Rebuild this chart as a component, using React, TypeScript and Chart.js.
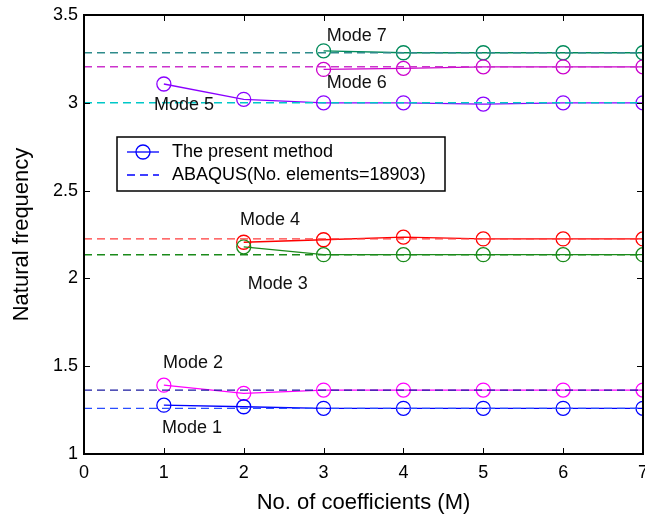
import React, { useEffect, useRef } from "react";
import { Chart, registerables } from "chart.js";

Chart.register(...registerables);

// ---- Data ----
const xTicks = [0, 1, 2, 3, 4, 5, 6, 7];
const yTicks = [1, 1.5, 2, 2.5, 3, 3.5];

const mFrom1 = [1, 2, 3, 4, 5, 6, 7];
const mFrom2 = [2, 3, 4, 5, 6, 7];
const mFrom3 = [3, 4, 5, 6, 7];

const mode1Present = [1.278, 1.269, 1.26, 1.26, 1.26, 1.26, 1.26];
const mode2Present = [1.392, 1.345, 1.364, 1.364, 1.364, 1.364, 1.364];
const mode3Present = [2.18, 2.135, 2.135, 2.135, 2.135, 2.135];
const mode4Present = [2.206, 2.22, 2.235, 2.225, 2.225, 2.225];
const mode5Present = [3.107, 3.02, 3.0, 3.0, 2.993, 3.0, 3.0];
const mode6Present = [3.19, 3.196, 3.205, 3.205, 3.205];
const mode7Present = [3.296, 3.285, 3.285, 3.285, 3.285];

const abaqusValues = [1.26, 1.364, 2.135, 2.225, 3.0, 3.205, 3.285];

const presentColors = ["#0000ff", "#ff00ff", "#1a8a1a", "#ff0000", "#8a00ff", "#cc00cc", "#008a5a"];
const abaqusColors = ["#2a4dff", "#1a1aa0", "#1a8a1a", "#ff3b3b", "#00c8c8", "#cc33cc", "#2e8b8b"];

const modeLabels = ["Mode 1", "Mode 2", "Mode 3", "Mode 4", "Mode 5", "Mode 6", "Mode 7"];
const modeLabelX = [0.977, 0.99, 2.05, 1.953, 0.877, 3.04, 3.04];
const modeLabelY = [1.15, 1.52, 1.97, 2.33, 2.99, 3.11, 3.38];

const legendLabels = ["The present method", "ABAQUS(No. elements=18903)"];

const xTitle = "No. of coefficients (M)";
const yTitle = "Natural frequency";

const FONT = "'Liberation Sans', Arial, Helvetica, sans-serif";

const presentSeries = [
  [mFrom1, mode1Present],
  [mFrom1, mode2Present],
  [mFrom2, mode3Present],
  [mFrom2, mode4Present],
  [mFrom1, mode5Present],
  [mFrom3, mode6Present],
  [mFrom3, mode7Present],
] as [number[], number[]][];

const decorPlugin = {
  id: "decor",
  afterDatasetsDraw(chart: any) {
    const { ctx, chartArea, scales } = chart;
    const xs = scales.x;
    const ys = scales.y;
    ctx.save();
    // mode labels
    ctx.fillStyle = "#111";
    ctx.font = `18px ${FONT}`;
    ctx.textAlign = "left";
    ctx.textBaseline = "middle";
    modeLabels.forEach((t, i) => {
      ctx.fillText(t, xs.getPixelForValue(modeLabelX[i]), ys.getPixelForValue(modeLabelY[i]));
    });

    // frame
    const { left, right, top, bottom } = chartArea;
    ctx.strokeStyle = "#000";
    ctx.lineWidth = 2;
    ctx.strokeRect(left, top, right - left, bottom - top);
    ctx.lineWidth = 1;
    const tl = 6;
    ctx.beginPath();
    xTicks.forEach((v) => {
      const px = Math.round(xs.getPixelForValue(v)) + 0.5;
      ctx.moveTo(px, bottom);
      ctx.lineTo(px, bottom - tl);
      ctx.moveTo(px, top);
      ctx.lineTo(px, top + tl);
    });
    yTicks.forEach((v) => {
      const py = Math.round(ys.getPixelForValue(v)) + 0.5;
      ctx.moveTo(left, py);
      ctx.lineTo(left + tl, py);
      ctx.moveTo(right, py);
      ctx.lineTo(right - tl, py);
    });
    ctx.stroke();

    // legend
    const lx = 117, ly = 137, lw = 328, lh = 54;
    ctx.fillStyle = "#fff";
    ctx.fillRect(lx, ly, lw, lh);
    ctx.lineWidth = 1.5;
    ctx.strokeStyle = "#000";
    ctx.strokeRect(lx, ly, lw, lh);
    const r1 = 152, r2 = 175;
    ctx.strokeStyle = "#0000ff";
    ctx.lineWidth = 1.3;
    ctx.beginPath();
    ctx.moveTo(127, r1);
    ctx.lineTo(159, r1);
    ctx.stroke();
    ctx.beginPath();
    ctx.arc(143, r1, 7, 0, Math.PI * 2);
    ctx.stroke();
    ctx.setLineDash([8, 5]);
    ctx.beginPath();
    ctx.moveTo(127, r2);
    ctx.lineTo(159, r2);
    ctx.stroke();
    ctx.setLineDash([]);
    ctx.fillStyle = "#000";
    ctx.font = `18px ${FONT}`;
    ctx.textAlign = "left";
    ctx.textBaseline = "middle";
    ctx.fillText(legendLabels[0], 172, r1);
    ctx.fillText(legendLabels[1], 172, r2);

    // axis titles
    ctx.font = `22px ${FONT}`;
    ctx.textAlign = "center";
    ctx.textBaseline = "middle";
    ctx.fillText(xTitle, (left + right) / 2, 503);
    ctx.save();
    ctx.translate(22, (top + bottom) / 2);
    ctx.rotate(-Math.PI / 2);
    ctx.fillText(yTitle, 0, 0);
    ctx.restore();
    ctx.restore();
  },
};

export default function App() {
  const ref = useRef<HTMLCanvasElement>(null);
  useEffect(() => {
    if (!ref.current) return;
    const datasets: any[] = [];
    abaqusValues.forEach((v, i) => {
      datasets.push({
        label: "ABAQUS " + modeLabels[i],
        data: [
          { x: xTicks[0], y: v },
          { x: xTicks[xTicks.length - 1], y: v },
        ],
        borderColor: abaqusColors[i],
        borderWidth: 1.4,
        borderDash: [8, 5],
        pointRadius: 0,
        fill: false,
        tension: 0,
      });
    });
    presentSeries.forEach(([ms, vals], i) => {
      datasets.push({
        label: "Present " + modeLabels[i],
        data: ms.map((m, j) => ({ x: m, y: vals[j] })),
        borderColor: presentColors[i],
        borderWidth: 1.3,
        pointRadius: 7,
        pointBorderWidth: 1.3,
        pointBackgroundColor: "rgba(0,0,0,0)",
        pointBorderColor: presentColors[i],
        fill: false,
        tension: 0,
      });
    });

    const chart = new Chart(ref.current, {
      type: "line",
      data: { datasets },
      options: {
        animation: false,
        responsive: false,
        devicePixelRatio: 1,
        layout: { autoPadding: false, padding: { left: 0, right: 2, top: 15, bottom: 0 } },
        plugins: { legend: { display: false }, tooltip: { enabled: false } },
        scales: {
          x: {
            type: "linear",
            min: 0,
            max: 7,
            afterFit: (s: any) => {
              s.height = 68;
              s.paddingLeft = 0;
              s.paddingRight = 0;
            },
            afterBuildTicks: (s: any) => {
              s.ticks = xTicks.map((v) => ({ value: v }));
            },
            grid: { display: false, drawTicks: false },
            border: { display: false },
            ticks: {
              padding: 8,
              color: "#000",
              font: { family: FONT, size: 18 },
              callback: (v: any) => String(v),
              maxRotation: 0,
              autoSkip: false,
            },
          },
          y: {
            type: "linear",
            min: 1,
            max: 3.5,
            afterFit: (s: any) => {
              s.width = 84;
              s.paddingTop = 0;
              s.paddingBottom = 0;
            },
            afterBuildTicks: (s: any) => {
              s.ticks = yTicks.map((v) => ({ value: v }));
            },
            grid: { display: false, drawTicks: false },
            border: { display: false },
            ticks: {
              padding: 6,
              color: "#000",
              font: { family: FONT, size: 18 },
              callback: (v: any) => String(v),
              autoSkip: false,
            },
          },
        },
      },
      plugins: [decorPlugin],
    } as any);
    return () => chart.destroy();
  }, []);

  return (
    <div style={{ position: "absolute", left: 0, top: 0, width: 645, height: 522, background: "#fff" }}>
      <canvas ref={ref} width={645} height={522} style={{ width: 645, height: 522 }} />
    </div>
  );
}
